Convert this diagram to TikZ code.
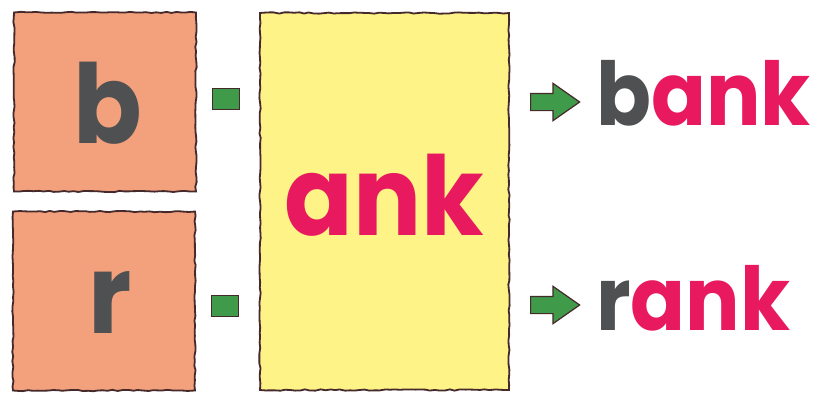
\documentclass[tikz,border=0pt]{standalone}
\usepackage{fontspec}
\usepackage{tikz}
\usepackage{xcolor}
\usetikzlibrary{shapes.arrows, decorations.pathmorphing, positioning}
\newfontfamily\roundfont{Poppins}[FakeStretch=0.92]
\definecolor{PhonicsInk}{HTML}{45292B}
\definecolor{PhonicsSalmon}{HTML}{F3A07D}
\definecolor{PhonicsYellow}{HTML}{FDF387}
\definecolor{PhonicsPink}{HTML}{E8195E}
\definecolor{PhonicsGrey}{HTML}{4E5051}
\definecolor{PhonicsGreen}{HTML}{3F9A4A}
\tikzset{
    % Box styles - painted card look
    onsetbox/.style={
        rectangle,
        draw=PhonicsInk,
        fill=PhonicsSalmon,
        line width=1.8pt,
        minimum width=182pt,
        minimum height=179pt,
        decorate,
        decoration={random steps, segment length=5pt, amplitude=0.7pt}
    },
    rimebox/.style={
        rectangle,
        draw=PhonicsInk,
        fill=PhonicsYellow,
        line width=1.8pt,
        minimum width=249pt,
        minimum height=377pt,
        decorate,
        decoration={random steps, segment length=5pt, amplitude=0.7pt}
    },
    joinmark/.style={
        rectangle,
        draw=PhonicsInk,
        fill=PhonicsGreen,
        line width=1.2pt,
        minimum width=27pt,
        minimum height=21pt,
        inner sep=0pt
    },
    % Arrow styles
    resultarrow/.style={
        single arrow,
        draw=PhonicsInk,
        fill=PhonicsGreen,
        line width=1.2pt,
        inner sep=8pt,
        minimum height=49pt,
        single arrow head extend=10pt,
        single arrow tip angle=70
    },
    % Text styles
    bigletter/.style={
        inner sep=0pt,
        text=PhonicsGrey,
        font=\roundfont\bfseries\fontsize{110}{110}\selectfont
    },
    wordtext/.style={
        inner sep=0pt,
        text=PhonicsPink,
        font=\roundfont\bfseries\fontsize{88}{88}\selectfont
    }
}
\begin{document}
\begin{tikzpicture}[x=1pt, y=1pt]
    \useasboundingbox (0,0) rectangle (820,392);
    \fill[white] (0,0) rectangle (820,392);

    \node[onsetbox] (onsetB) at (105,290) {};
    \node[onsetbox] (onsetR) at (104,91) {};
    \node[rimebox] (rime) at (384.5,190.5) {};

    \node[joinmark] (joinB) at (226,293) {};
    \node[joinmark] (joinR) at (225,86) {};

    \node[resultarrow] (arrowB) at (549,290) {};
    \node[resultarrow] (arrowR) at (549,87) {};

    \node[bigletter, anchor=base] (letterB) at (107.5,249) {b};
    \node[bigletter, anchor=base] (letterR) at (110,59) {r};
    \node[bigletter, text=PhonicsPink, anchor=base] (rimeText) at (384.5,157) {ank};

    \node[wordtext, anchor=base west] (wordB) at (596,267) {{\color{PhonicsGrey}b}ank};
    \node[wordtext, anchor=base west] (wordR) at (596,62) {{\color{PhonicsGrey}r}ank};
\end{tikzpicture}
\end{document}
